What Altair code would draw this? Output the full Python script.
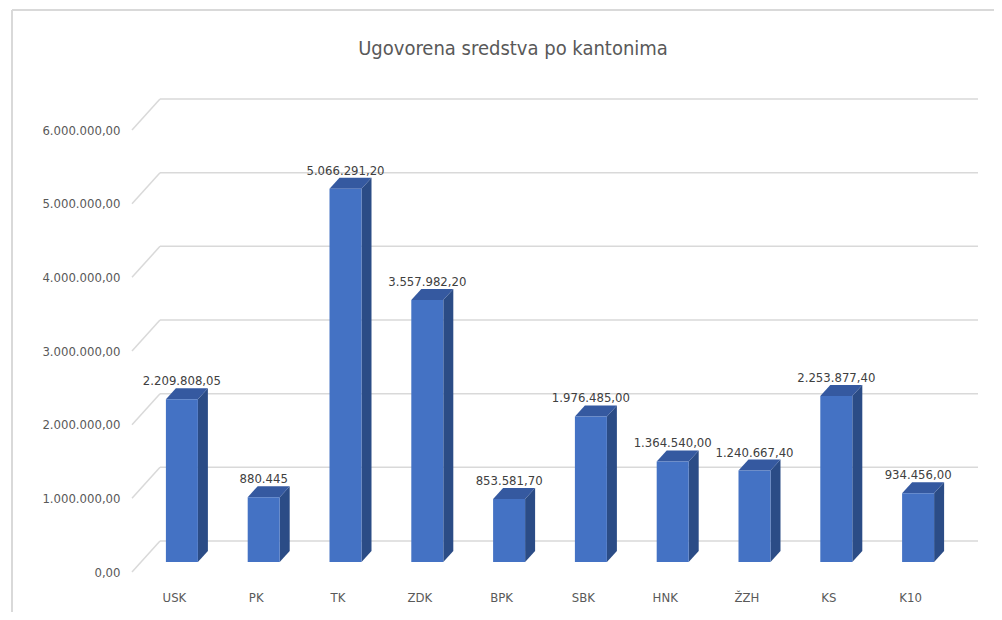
import altair as alt
import pandas as pd

# ---- data ----
categories = ["USK", "PK", "TK", "ZDK", "BPK", "SBK", "HNK", "ŽZH", "KS", "K10"]
values = [2209808.05, 880445.00, 5066291.20, 3557982.20, 853581.70,
          1976485.00, 1364540.00, 1240667.40, 2253877.40, 934456.00]
value_labels = ["2.209.808,05", "880.445", "5.066.291,20", "3.557.982,20", "853.581,70",
                "1.976.485,00", "1.364.540,00", "1.240.667,40", "2.253.877,40", "934.456,00"]
y_ticks = [0, 1000000, 2000000, 3000000, 4000000, 5000000, 6000000]

# ---- layout / style ----
W, H = 818, 442
YMAX = 6000000
STEP = W / len(categories)
HALF = 16 / STEP          # half front-face width (category units)
DX = 10 / STEP            # 3-D depth, horizontal (category units)
DY = 11 * YMAX / H        # 3-D depth, vertical (value units)
FONT = "Liberation Sans Narrow, DejaVu Sans Condensed, Arial Narrow, sans-serif"
FRONT, SIDE, TOP = "#4472C4", "#2B4C86", "#3559A0"
GRID = "#D9D9D9"
TXT = "#595959"
FS = 13

front_rows, side_rows, top_rows = [], [], []
for i, (c, v, lab) in enumerate(zip(categories, values, value_labels)):
    cx = i + 0.5
    xl, xr = cx - HALF, cx + HALF
    front_rows.append(dict(cat=c, cx=cx, xl=xl, xr=xr, v=v, lab=lab))
    side_rows += [dict(cat=c, x=xr, lo=0, hi=v), dict(cat=c, x=xr + DX, lo=DY, hi=v + DY)]
    top_rows += [dict(cat=c, x=xl, lo=v, hi=v), dict(cat=c, x=xl + DX, lo=v, hi=v + DY),
                 dict(cat=c, x=xr, lo=v, hi=v + DY), dict(cat=c, x=xr + DX, lo=v + DY, hi=v + DY)]

front = pd.DataFrame(front_rows)
side = pd.DataFrame(side_rows)
top = pd.DataFrame(top_rows)
ticks = pd.DataFrame({"t": y_ticks})

xs = alt.Scale(domain=[0, len(categories)], nice=False, zero=False)
ys = alt.Scale(domain=[0, YMAX], nice=False)

names = "[" + ",".join("'" + c + "'" for c in categories) + "]"
x_axis = alt.Axis(values=[i + 0.5 for i in range(len(categories))],
                  labelExpr=names + "[floor(datum.value)]",
                  domain=False, ticks=False, tickSize=0, grid=False, title=None,
                  labelFont=FONT, labelFontSize=FS, labelColor=TXT,
                  labelBaseline="middle", labelPadding=35, labelOffset=-8)
y_axis = alt.Axis(values=y_ticks,
                  labelExpr="replace(replace(replace(format(datum.value, ',.2f'), regexp(',', 'g'), '#'), '.', ','), regexp('#', 'g'), '.')",
                  domain=False, ticks=False, tickSize=0, grid=False, title=None,
                  labelFont=FONT, labelFontSize=FS, labelColor=TXT,
                  labelPadding=21, labelOffset=10)

# back-wall gridlines
grid = alt.Chart(ticks).mark_rule(color=GRID, strokeWidth=1.5, yOffset=-21, y2Offset=-21).encode(
    y=alt.Y("t:Q", scale=ys, axis=y_axis),
    x=alt.value(19), x2=alt.value(W + 19),
)
# side-wall diagonals
diag = alt.Chart(ticks).mark_rule(color=GRID, strokeWidth=1.5, yOffset=10, y2Offset=-21).encode(
    y=alt.Y("t:Q", scale=ys, axis=y_axis), y2="t:Q",
    x=alt.value(-9), x2=alt.value(19),
)
# chart-area border (left and top)
border_left = alt.Chart(ticks).mark_rule(color=GRID, strokeWidth=1.5).encode(
    x=alt.value(-129), y=alt.value(-110), y2=alt.value(H + 60))
border_top = alt.Chart(ticks).mark_rule(color=GRID, strokeWidth=1.5).encode(
    y=alt.value(-110), x=alt.value(-129), x2=alt.value(W + 60))

side_faces = alt.Chart(side).mark_area(color=SIDE, opacity=1).encode(
    x=alt.X("x:Q", scale=xs, axis=x_axis),
    y=alt.Y("lo:Q", scale=ys, axis=y_axis), y2="hi:Q",
    detail="cat:N",
)
top_faces = alt.Chart(top).mark_area(color=TOP, opacity=1).encode(
    x=alt.X("x:Q", scale=xs, axis=x_axis),
    y=alt.Y("lo:Q", scale=ys, axis=y_axis), y2="hi:Q",
    detail="cat:N",
)
front_faces = alt.Chart(front).mark_rect(color=FRONT).encode(
    x=alt.X("xl:Q", scale=xs, axis=x_axis), x2="xr:Q",
    y=alt.Y("v:Q", scale=ys, axis=y_axis), y2=alt.datum(0),
)
labels = alt.Chart(front).mark_text(font=FONT, fontSize=FS, color="#404040",
                                    baseline="alphabetic", dy=-14).encode(
    x=alt.X("cx:Q", scale=xs, axis=x_axis),
    y=alt.Y("v:Q", scale=ys, axis=y_axis),
    text="lab:N",
)

chart = alt.layer(border_left, border_top, grid, diag, side_faces, top_faces, front_faces, labels).properties(
    width=W, height=H,
    background="white",
    title=alt.TitleParams("Ugovorena sredstva po kantonima", font=FONT, fontSize=20,
                          fontWeight="normal", color=TXT, dx=-37, dy=54),
    autosize=alt.AutoSizeParams(type="none"),
    padding={"left": 133, "top": 112, "right": 35, "bottom": 50},
).configure_view(strokeWidth=0, stroke="transparent")

chart.save("out.html", embed_options={"renderer": "svg", "actions": False})
